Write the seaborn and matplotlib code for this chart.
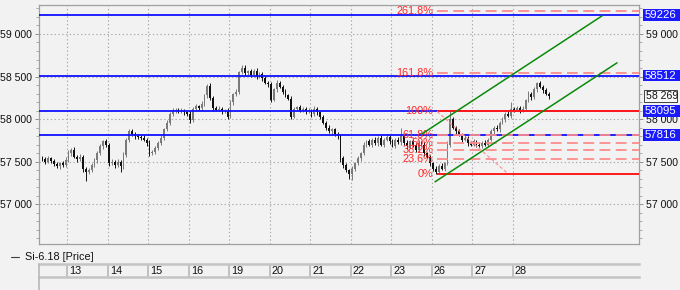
import numpy as np
import pandas as pd
import matplotlib
matplotlib.use("Agg")
import matplotlib.pyplot as plt
import seaborn as sns
from matplotlib.patches import Rectangle
from matplotlib.lines import Line2D
from matplotlib.transforms import blended_transform_factory

# ---------------- data ----------------
day_labels = ['13', '14', '15', '16', '19', '20', '21', '22', '23', '26', '27', '28']
bars_per_day = 14
first_bar = -9
open0 = 57540

close = [
    57530, 57500, 57540, 57510, 57470, 57450, 57480, 57460, 57520,
    57600, 57640, 57560, 57530, 57560, 57420, 57380, 57400, 57460, 57520, 57600, 57680, 57740, 57700,
    57480, 57500, 57460, 57500, 57450, 57580, 57760, 57860, 57820, 57800, 57790, 57780, 57760, 57720,
    57600, 57620, 57660, 57720, 57780, 57880, 57960, 58060, 58100, 58110, 58090, 58100, 58080, 58060,
    57990, 58120, 58150, 58130, 58180, 58280, 58390, 58250, 58130, 58110, 58120, 58090, 58100, 58030,
    58200, 58290, 58320, 58550, 58600, 58540, 58560, 58520, 58570, 58500, 58530, 58480, 58430, 58410,
    58230, 58350, 58430, 58380, 58320, 58280, 58240, 58030, 58120, 58140, 58100, 58120, 58090, 58100,
    58060, 58120, 58080, 58020, 57960, 57900, 57860, 57880, 57820, 57800, 57540, 57460, 57400, 57350,
    57420, 57480, 57540, 57600, 57700, 57740, 57700, 57760, 57720, 57780, 57700, 57760, 57790, 57740,
    57690, 57760, 57730, 57800, 57720, 57680, 57740, 57700, 57640, 57720, 57700, 57600, 57560, 57480,
    57420, 57380, 57450, 57420, 57480, 57700, 58000, 57900, 57860, 57820, 57760, 57780, 57720, 57700,
    57740, 57700, 57690, 57720, 57700, 57760, 57860, 57900, 57880, 57960, 58000, 58060, 58040, 58120,
    58110, 58130, 58100, 58120, 58220, 58300, 58260, 58350, 58420, 58380, 58340, 58300, 58269,
]
wick_up = [
    30, 20, 30, 20, 20, 30, 20, 30, 40,
    40, 20, 30, 20, 30, 20, 20, 30, 30, 20, 30, 30, 20, 30,
    20, 30, 20, 30, 20, 30, 20, 30, 20, 30, 20, 20, 30, 20,
    30, 20, 30, 20, 30, 20, 30, 20, 30, 20, 20, 30, 20, 20,
    30, 20, 30, 20, 30, 20, 20, 30, 20, 20, 30, 20, 20, 30,
    30, 20, 30, 20, 30, 30, 20, 30, 20, 30, 20, 20, 30, 20,
    30, 20, 30, 20, 20, 30, 20, 30, 20, 20, 30, 20, 20, 30,
    20, 30, 20, 20, 30, 20, 30, 20, 20, 30, 20, 30, 20, 20,
    30, 20, 30, 20, 30, 20, 30, 20, 30, 20, 30, 20, 30, 20,
    30, 20, 30, 100, 20, 30, 20, 30, 20, 30, 20, 30, 20, 20,
    20, 30, 20, 30, 20, 40, 92, 30, 20, 30, 20, 30, 20, 20,
    30, 20, 30, 20, 30, 20, 30, 20, 30, 20, 30, 20, 30, 80,
    20, 30, 20, 30, 20, 30, 20, 30, 20, 30, 20, 30, 20,
]
wick_dn = [
    20, 30, 20, 30, 20, 20, 30, 20, 20,
    20, 30, 20, 30, 20, 40, 110, 30, 20, 20, 30, 20, 30, 30,
    30, 20, 30, 20, 70, 30, 20, 30, 20, 30, 20, 30, 20, 30,
    30, 20, 30, 20, 20, 30, 20, 30, 20, 30, 20, 20, 30, 20,
    30, 20, 30, 20, 30, 20, 30, 20, 30, 20, 20, 30, 20, 30,
    20, 30, 20, 30, 20, 30, 20, 30, 20, 30, 20, 30, 20, 30,
    30, 20, 30, 20, 30, 20, 20, 30, 20, 30, 20, 20, 30, 20,
    30, 20, 30, 20, 20, 30, 20, 30, 20, 30, 40, 30, 20, 50,
    60, 30, 20, 30, 20, 30, 20, 30, 20, 30, 20, 30, 20, 30,
    20, 30, 20, 30, 20, 30, 20, 30, 20, 30, 20, 30, 20, 30,
    30, 20, 30, 20, 30, 20, 30, 20, 30, 20, 30, 20, 30, 20,
    20, 30, 20, 30, 20, 30, 20, 30, 20, 30, 20, 30, 20, 30,
    30, 20, 30, 20, 30, 20, 30, 20, 30, 20, 30, 20, 30,
]

level_values = [59226, 58512, 58095, 57816]
level_labels = ['59226', '58512', '58095', '57816']
last_price = 58269
last_label = '58 269'
y_ticks = [57000, 57500, 58000, 58500, 59000]
y_tick_labels = ['57 000', '57 500', '58 000', '58 500', '59 000']

fib_low = 57360
fib_high = 58090
fib_ratios = [0, 23.6, 38.2, 50, 61.8, 100, 161.8, 261.8]
fib_labels = ['0%', '23.6%', '38.2%', '50%', '61.8%', '100%', '161.8%', '261.8%']
fib_start = 127.4
fib_label_x = 126.0
fib_diag_x = [127.4, 151.9]
fib_diag_y = [58090, 57360]

chan_lower_x = [126.7, 189.6]
chan_lower_y = [57264, 58661]
chan_upper_x = [122.2, 184.4]
chan_upper_y = [57827, 59212]

legend_text = 'Si-6.18 [Price]'

# ---------------- style ----------------
sns.set_theme(style="white")
plt.rcParams['font.family'] = ['Liberation Sans', 'DejaVu Sans']
BG = '#f2f2f2'
W, H = 680, 290
fig = plt.figure(figsize=(W / 100, H / 100), dpi=100, facecolor=BG)

ax = fig.add_axes([39 / W, 1 - 244 / H, 600 / W, 239 / H])
ax.set_facecolor(BG)
ax.set_xlim(-10.18, 197.2)
ax.set_ylim(56534, 59340)

# grid
boundaries = [bars_per_day * k - 0.5 for k in range(len(day_labels))]
grid_kw = dict(color='#a8a8a8', lw=0.8, ls=(0, (1.2, 2.2)), zorder=0)
for b in boundaries:
    ax.axvline(b, **grid_kw)
for t in y_ticks:
    ax.axhline(t, **grid_kw)

# candles
df = pd.DataFrame({'close': close, 'wick_up': wick_up, 'wick_dn': wick_dn})
df['x'] = np.arange(len(df)) + first_bar
df['open'] = [open0] + close[:-1]
df['top'] = df[['open', 'close']].max(axis=1)
df['bot'] = df[['open', 'close']].min(axis=1)
df['high'] = df['top'] + df['wick_up']
df['low'] = df['bot'] - df['wick_dn']
cols = np.where(df['close'] >= df['open'], '#7a7a7a', '#111111')
ax.vlines(df['x'], df['low'], df['high'], colors=cols, lw=0.7, zorder=3)
ax.bar(df['x'], np.maximum(df['top'] - df['bot'], 8), bottom=df['bot'], width=0.62,
       color=cols, linewidth=0, zorder=4)

# blue horizontal levels
for v in level_values:
    ax.axhline(v, color='#1010ff', lw=1.3, zorder=5)

# fibonacci
rng = fib_high - fib_low
xr = ax.get_xlim()[1]
for r, lab in zip(fib_ratios, fib_labels):
    v = fib_low + rng * r / 100.0
    if r in (0, 100):
        ax.plot([fib_start, xr], [v, v], color='#ff1a1a', lw=1.4, zorder=6, solid_capstyle='butt')
    else:
        ax.plot([fib_start, xr], [v, v], color='#ff8c8c', lw=1.3, ls=(0, (6, 3)), zorder=6)
    ax.text(fib_label_x, v, lab, color='#ff2a2a', fontsize=7.8, ha='right', va='center', zorder=7)
ax.plot(fib_diag_x, fib_diag_y, color='#ff8c8c', lw=0.8, ls=(0, (3, 2)), zorder=6)

# channel
chan = pd.DataFrame({'x': chan_lower_x + chan_upper_x, 'y': chan_lower_y + chan_upper_y,
                     'line': ['lower', 'lower', 'upper', 'upper']})
sns.lineplot(data=chan, x='x', y='y', units='line', estimator=None, color='#0a8a0a',
             lw=1.1, ax=ax, zorder=8, legend=False)
ax.set_xlabel('')
ax.set_ylabel('')

# axes cosmetics
for s in ax.spines.values():
    s.set_color('#a0a0a0')
    s.set_linewidth(0.9)
ax.set_xticks([])
ax.set_yticks(y_ticks)
ax.set_yticklabels(y_tick_labels)
ax.set_yticks(np.arange(56600, 59400, 100), minor=True)
ax.tick_params(axis='y', which='major', direction='out', length=3, width=0.7, color='#909090',
               labelsize=7.6, labelcolor='#111111', left=True, right=True, labelleft=True,
               labelright=True, pad=2)
ax.tick_params(axis='y', which='minor', direction='out', length=2, width=0.6, color='#a0a0a0',
               left=True, right=True)

# right-hand label boxes
trans = blended_transform_factory(fig.transFigure, ax.transData)
box_h = 11.7 / 0.08515
for v, lab in zip(level_values, level_labels):
    fig.patches.append(Rectangle((643 / W, v - box_h / 2), 37 / W, box_h, transform=trans,
                                 facecolor='#1a1aff', edgecolor='none', zorder=10))
    fig.text(645 / W, v, lab, transform=trans, color='white', fontsize=8.2, va='center',
             ha='left', zorder=11)
fig.patches.append(Rectangle((644 / W, last_price - box_h / 2), 33 / W, box_h, transform=trans,
                             facecolor='#f8f8f8', edgecolor='#404040', lw=0.7, zorder=10))
fig.text(646 / W, last_price, last_label, transform=trans, color='#111111', fontsize=7.6,
         va='center', ha='left', zorder=11)

# legend line
fig.add_artist(Line2D([11 / W, 19 / W], [1 - 257 / H, 1 - 257 / H], color='#404040', lw=0.8))
fig.text(25 / W, 1 - 257 / H, legend_text, fontsize=7.8, color='#111111', va='center', ha='left')

# time strip
strip = fig.add_axes([39 / W, 1 - 277 / H, 600 / W, 13 / H])
strip.set_facecolor(BG)
strip.set_xlim(ax.get_xlim())
strip.set_ylim(0, 1)
strip.set_xticks([])
strip.set_yticks([])
for side in ('left', 'right'):
    strip.spines[side].set_visible(False)
for side in ('top', 'bottom'):
    strip.spines[side].set_color('#c4c4c4')
    strip.spines[side].set_linewidth(1.8)
for b, lab in zip(boundaries, day_labels):
    strip.axvline(b, color='#b8b8b8', lw=1.2)
    strip.text(b + 0.8, 0.45, lab, fontsize=7.8, color='#111111', va='center', ha='left')
fig.add_artist(Line2D([39 / W, 39 / W], [0, 1 - 264 / H], color='#b8b8b8', lw=1.2))

fig.savefig('out.png', dpi=100, facecolor=BG)
